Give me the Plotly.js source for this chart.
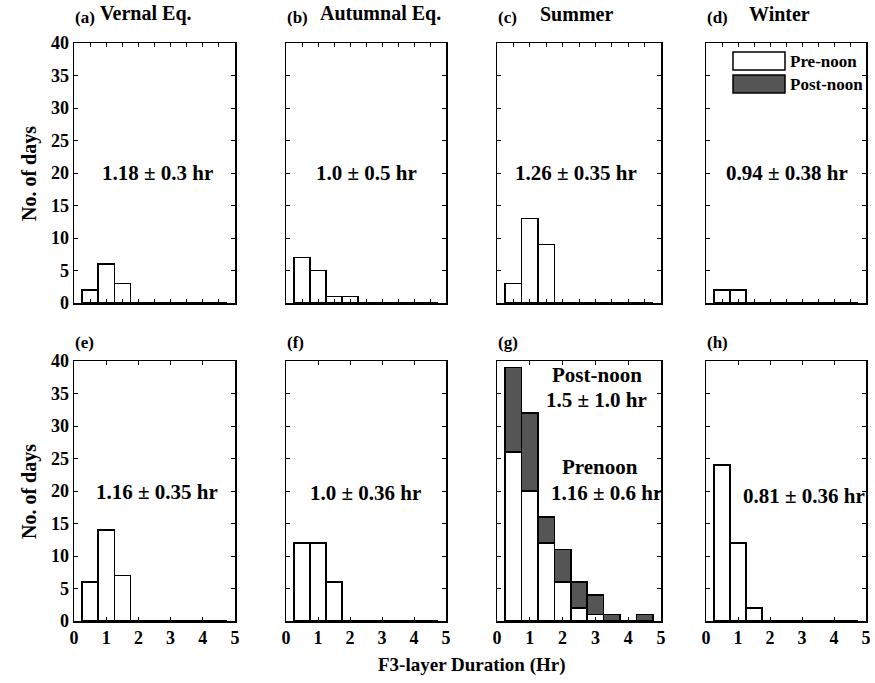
<!DOCTYPE html>
<html>
<head>
<meta charset="utf-8">
<script src="https://cdn.plot.ly/plotly-3.0.1.min.js"></script>
<style>html,body{margin:0;padding:0;background:#fff;}#chart{width:875px;height:683px;}</style>
</head>
<body>
<div id="chart"></div>
<script>
// Bin centres (hours)
const binCenters = [0.5, 1.0, 1.5, 2.0, 2.5, 3.0, 3.5, 4.0, 4.5];
const yTickVals = [0, 5, 10, 15, 20, 25, 30, 35, 40];

// Panel counts (No. of days)
const vernalTop    = [2, 6, 3, 0, 0, 0, 0, 0, 0];
const autumnalTop  = [7, 5, 1, 1, 0, 0, 0, 0, 0];
const summerTop    = [3, 13, 9, 0, 0, 0, 0, 0, 0];
const winterTop    = [2, 2, 0, 0, 0, 0, 0, 0, 0];
const vernalBot    = [6, 14, 7, 0, 0, 0, 0, 0, 0];
const autumnalBot  = [12, 12, 6, 0, 0, 0, 0, 0, 0];
const summerPre    = [26, 20, 12, 6, 2, 1, 0, 0, 0];
const summerPost   = [13, 12, 4, 5, 4, 3, 1, 0, 1];
const winterBot    = [24, 12, 2, 0, 0, 0, 0, 0, 0];

const panelLabels = ["(a)", "(b)", "(c)", "(d)", "(e)", "(f)", "(g)", "(h)"];
const seasonTitles = ["Vernal Eq.", "Autumnal Eq.", "Summer", "Winter"];
const statTexts = ["1.18 ± 0.3 hr", "1.0 ± 0.5 hr", "1.26 ± 0.35 hr", "0.94 ± 0.38 hr",
                   "1.16 ± 0.35 hr", "1.0 ± 0.36 hr", "", "0.81 ± 0.36 hr"];
const legendNames = ["Pre-noon", "Post-noon"];

const W = 875, H = 683;
const px = v => v / W;
const py = v => 1 - v / H;

const colL = [74, 286, 497, 706];
const colR = [235, 446, 661, 866];
const rowT = [43, 361];
const rowB = [303, 621];

const FONT = "Liberation Serif, Times New Roman, serif";
const darkFill = "#555555";

const panelData = [vernalTop, autumnalTop, summerTop, winterTop,
                   vernalBot, autumnalBot, null, winterBot];

const traces = [];
const layout = {
  width: W, height: H,
  margin: {l: 0, r: 0, t: 0, b: 0},
  paper_bgcolor: "#ffffff",
  plot_bgcolor: "#ffffff",
  showlegend: false,
  barmode: "stack",
  bargap: 0,
  font: {family: FONT, size: 17, color: "#000", weight: "bold"},
  annotations: [],
  shapes: []
};

const statPos = [[157, 173], [366, 173], [576, 173], [787, 173],
                 [157, 492], [365, 493], null, [804, 496]];
const titleX = [98, 318, 538, 747];

for (let i = 0; i < 8; i++) {
  const row = i < 4 ? 0 : 1;
  const col = i % 4;
  const n = i + 1;
  const xa = "x" + (n === 1 ? "" : n);
  const ya = "y" + (n === 1 ? "" : n);
  const xKey = "xaxis" + (n === 1 ? "" : n);
  const yKey = "yaxis" + (n === 1 ? "" : n);

  layout[xKey] = {
    domain: [px(colL[col]), px(colR[col])],
    anchor: ya,
    range: [0, 5],
    tickmode: "linear", tick0: 0, dtick: row === 0 ? 0.5 : 1,
    ticks: "inside", ticklen: 4, tickwidth: 1, tickcolor: "#000",
    showticklabels: row === 1,
    showline: true, linecolor: "#000", linewidth: 1.5, mirror: "ticks",
    showgrid: false, zeroline: false, fixedrange: true,
    tickfont: {family: FONT, size: 18, color: "#000", weight: "bold"}
  };
  layout[yKey] = {
    domain: [py(rowB[row]), py(rowT[row])],
    anchor: xa,
    range: [0, 40],
    tickmode: "array", tickvals: yTickVals,
    ticks: "inside", ticklen: 4, tickwidth: 1, tickcolor: "#000",
    showticklabels: col === 0,
    showline: true, linecolor: "#000", linewidth: 1.5, mirror: "ticks",
    showgrid: false, zeroline: false, fixedrange: true,
    tickfont: {family: FONT, size: 18, color: "#000", weight: "bold"}
  };

  if (i === 6) {
    traces.push({type: "bar", x: binCenters, y: summerPre, width: 0.5, xaxis: xa, yaxis: ya,
      name: legendNames[0], marker: {color: "#ffffff", line: {color: "#000", width: 1.5}}});
    traces.push({type: "bar", x: binCenters, y: summerPost, width: 0.5, xaxis: xa, yaxis: ya,
      name: legendNames[1], marker: {color: darkFill, line: {color: "#000", width: 1.5}}});
  } else {
    traces.push({type: "bar", x: binCenters, y: panelData[i], width: 0.5, xaxis: xa, yaxis: ya,
      name: legendNames[0], marker: {color: "#ffffff", line: {color: "#000", width: 1.5}}});
  }

  // panel letter
  layout.annotations.push({
    xref: "paper", yref: "paper", x: px(colL[col] - 1), y: py(row === 0 ? 17 : 342),
    xanchor: "left", yanchor: "middle", showarrow: false,
    text: panelLabels[i], font: {family: FONT, size: 17, color: "#000", weight: "bold"}
  });
  if (row === 0) {
    layout.annotations.push({
      xref: "paper", yref: "paper", x: px(titleX[col]), y: py(14),
      xanchor: "left", yanchor: "middle", showarrow: false,
      text: seasonTitles[col], font: {family: FONT, size: 20, color: "#000", weight: "bold"}
    });
  }
  if (statTexts[i]) {
    layout.annotations.push({
      xref: "paper", yref: "paper", x: px(statPos[i][0]), y: py(statPos[i][1]),
      xanchor: "center", yanchor: "middle", showarrow: false,
      text: statTexts[i], font: {family: FONT, size: 21, color: "#000", weight: "bold"}
    });
  }
}

// Panel (g) texts
[["Post-noon", 597, 375], ["1.5 ± 1.0 hr", 596, 400], ["Prenoon", 600, 467], ["1.16 ± 0.6 hr", 606, 493]]
  .forEach(t => layout.annotations.push({
    xref: "paper", yref: "paper", x: px(t[1]), y: py(t[2]),
    xanchor: "center", yanchor: "middle", showarrow: false,
    text: t[0], font: {family: FONT, size: 21, color: "#000", weight: "bold"}
  }));

// Y-axis titles
[173, 491].forEach(cy => layout.annotations.push({
  xref: "paper", yref: "paper", x: px(29), y: py(cy),
  xanchor: "center", yanchor: "middle", showarrow: false, textangle: -90,
  text: "No. of days", font: {family: FONT, size: 20, color: "#000", weight: "bold"}
}));

// X-axis title
layout.annotations.push({
  xref: "paper", yref: "paper", x: px(472), y: py(665),
  xanchor: "center", yanchor: "middle", showarrow: false,
  text: "F3-layer Duration (Hr)", font: {family: FONT, size: 19, color: "#000", weight: "bold"}
});

// Legend in panel (d)
[[52, 70, "#ffffff", legendNames[0]], [75, 93, darkFill, legendNames[1]]].forEach(l => {
  layout.shapes.push({
    type: "rect", xref: "paper", yref: "paper",
    x0: px(733), x1: px(785), y0: py(l[1]), y1: py(l[0]),
    fillcolor: l[2], line: {color: "#000", width: 1.5}
  });
  layout.annotations.push({
    xref: "paper", yref: "paper", x: px(788), y: py((l[0] + l[1]) / 2),
    xanchor: "left", yanchor: "middle", showarrow: false,
    text: l[3], font: {family: FONT, size: 17, color: "#000", weight: "bold"}
  });
});

Plotly.newPlot("chart", traces, layout, {displayModeBar: false, staticPlot: true});
</script>
</body>
</html>
